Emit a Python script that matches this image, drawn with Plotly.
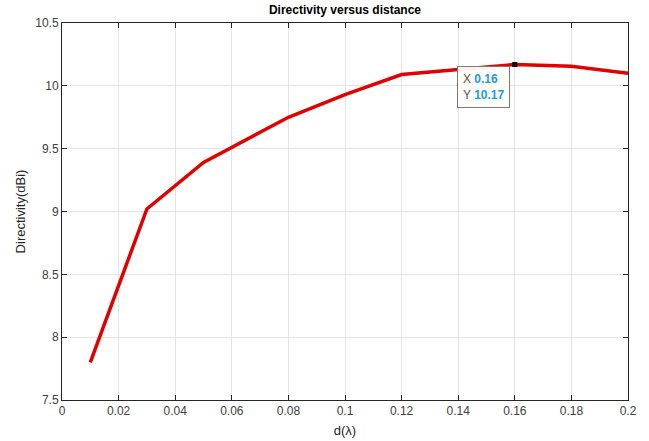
import plotly.graph_objects as go

d_lambda = [0.01, 0.03, 0.05, 0.08, 0.10, 0.12, 0.14, 0.16, 0.18, 0.20]
directivity = [7.80, 9.02, 9.39, 9.75, 9.93, 10.09, 10.13, 10.17, 10.155, 10.10]
tip_x = 0.16
tip_y = 10.17
x_ticks = [0, 0.02, 0.04, 0.06, 0.08, 0.1, 0.12, 0.14, 0.16, 0.18, 0.2]
x_tick_labels = ["0", "0.02", "0.04", "0.06", "0.08", "0.1", "0.12", "0.14", "0.16", "0.18", "0.2"]
y_ticks = [7.5, 8, 8.5, 9, 9.5, 10, 10.5]
y_tick_labels = ["7.5", "8", "8.5", "9", "9.5", "10", "10.5"]

FONT = "Liberation Sans, Arial"

fig = go.Figure()
fig.add_trace(go.Scatter(x=d_lambda, y=directivity, mode="lines",
                         line=dict(color="#e00000", width=3.5), showlegend=False, hoverinfo="skip"))
fig.add_trace(go.Scatter(x=[tip_x], y=[tip_y], mode="markers",
                         marker=dict(color="black", size=5, symbol="square"), showlegend=False, hoverinfo="skip"))

fig.add_annotation(x=0.1396, y=10.158, xref="x", yref="y", xanchor="left", yanchor="top",
                   showarrow=False, align="left",
                   text=(f"<span style='color:#555555'>X</span> <b><span style='color:#1e9be0'>{tip_x:.2f}</span></b><br>"
                         f"<span style='color:#555555'>Y</span> <b><span style='color:#1e9be0'>{tip_y:.2f}</span></b>"),
                   font=dict(family=FONT, size=12),
                   bgcolor="rgba(252,252,248,0.95)", bordercolor="#7a7a7a", borderwidth=1, borderpad=5)

axis_common = dict(showgrid=True, gridcolor="#e3e3e3", gridwidth=1, zeroline=False,
                   showline=True, linecolor="#262626", linewidth=1, mirror="ticks",
                   ticks="inside", ticklen=5, tickcolor="#262626", automargin=False,
                   tickfont=dict(family=FONT, size=12, color="#404040"))

fig.update_xaxes(range=[0, 0.2], tickvals=x_ticks, ticktext=x_tick_labels,
                 title=dict(text="d(λ)", font=dict(family=FONT, size=13, color="#262626"), standoff=8),
                 **axis_common)
fig.update_yaxes(range=[7.5, 10.5], tickvals=y_ticks, ticktext=y_tick_labels,
                 title=dict(text="Directivity(dBi)", font=dict(family=FONT, size=13, color="#262626"), standoff=6),
                 **axis_common)

fig.update_layout(width=649, height=441, margin=dict(l=62, r=21, t=23, b=41),
                  paper_bgcolor="white", plot_bgcolor="white",
                  title=dict(text="<b>Directivity versus distance</b>", x=0.5, xref="paper", xanchor="center",
                             y=0.977, yanchor="middle",
                             font=dict(family=FONT, size=12, color="black")))

fig.write_html("out.html", config={"displayModeBar": False},
               post_script="document.body.style.margin='0';document.body.style.padding='0';")
